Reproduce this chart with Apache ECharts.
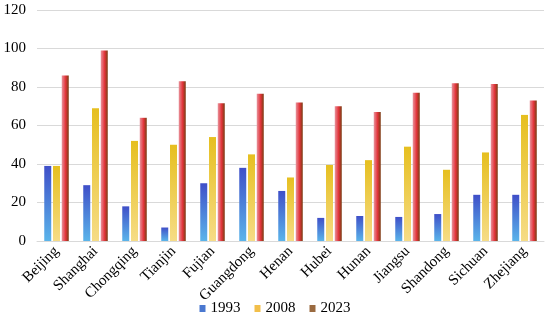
<!DOCTYPE html>
<html>
<head>
<meta charset="utf-8">
<script src="https://cdn.jsdelivr.net/npm/echarts@6/dist/echarts.min.js"></script>
<style>html,body{margin:0;padding:0;background:#fff;}#c{width:550px;height:323px;}</style>
</head>
<body>
<div id="c"></div>
<script>
const categories = ['Beijing','Shanghai','Chongqing','Tianjin','Fujian','Guangdong','Henan','Hubei','Hunan','Jiangsu','Shandong','Sichuan','Zhejiang'];
const v1993 = [39, 29, 18, 7, 30, 38, 26, 12, 13, 12.5, 14, 24, 24];
const v2008 = [39, 69, 52, 50, 54, 45, 33, 39.5, 42, 49, 37, 46, 65.5];
const v2023 = [86, 99, 64, 83, 71.5, 76.5, 72, 70, 67, 77, 82, 81.5, 73];
const yTicks = [0, 20, 40, 60, 80, 100, 120];

const font = '"Liberation Serif", "Times New Roman", serif';
function vgrad(top, bottom){
  return new echarts.graphic.LinearGradient(0,0,0,1,[{offset:0,color:top},{offset:1,color:bottom}]);
}
function hgrad(l, m, r){
  return new echarts.graphic.LinearGradient(0,0,1,0,[{offset:0,color:l},{offset:0.55,color:m},{offset:1,color:r}]);
}
const chart = echarts.init(document.getElementById('c'));
chart.setOption({
  animation:false,
  backgroundColor:'#fff',
  grid:{left:37,right:6,top:10,bottom:82,containLabel:false},
  legend:{
    bottom:2,left:'center',itemWidth:6,itemHeight:7,itemGap:14,icon:'rect',
    textStyle:{fontFamily:font,fontSize:15,color:'#000'},
    data:[
      {name:'1993',itemStyle:{color:'#4a78d0'}},
      {name:'2008',itemStyle:{color:'#f2bf4a'}},
      {name:'2023',itemStyle:{color:'#9a6a40'}}
    ]
  },
  xAxis:{
    type:'category',data:categories,
    axisLine:{show:true,lineStyle:{color:'#d9d9d9'}},
    axisTick:{show:false},
    axisLabel:{rotate:45,interval:0,fontFamily:font,fontSize:15,color:'#000',margin:8}
  },
  yAxis:{
    type:'value',min:yTicks[0],max:yTicks[yTicks.length-1],interval:20,
    axisLine:{show:false},axisTick:{show:false},
    splitLine:{lineStyle:{color:'#d9d9d9',width:1}},
    axisLabel:{fontFamily:font,fontSize:15,color:'#000',margin:11}
  },
  series:[
    {name:'1993',type:'bar',data:v1993,barWidth:7,barGap:'25%',
     itemStyle:{color:vgrad('#3f4fc8','#5ab4ea')}},
    {name:'2008',type:'bar',data:v2008,barWidth:7,barGap:'25%',
     itemStyle:{color:vgrad('#e6bf1f','#f6dc86')}},
    {name:'2023',type:'bar',data:v2023,barWidth:7,barGap:'25%',
     itemStyle:{color:hgrad('#e8939c','#e2343a','#7a3c12')}}
  ]
});
</script>
</body>
</html>
